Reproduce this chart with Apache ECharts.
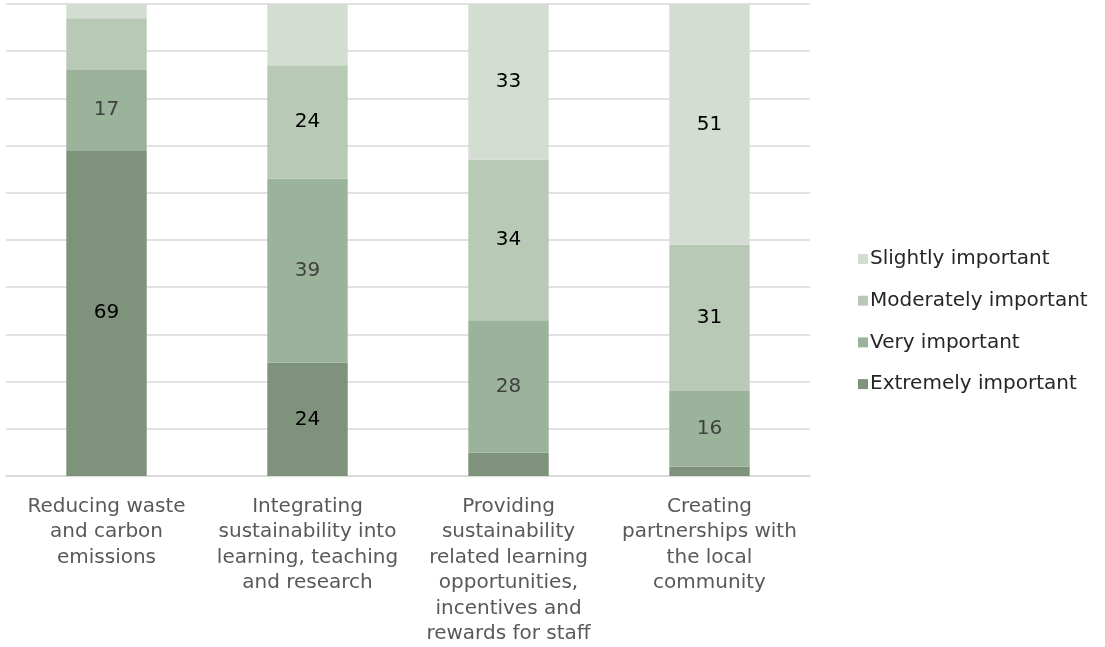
<!DOCTYPE html>
<html>
<head>
<meta charset="utf-8">
<script src="https://cdn.jsdelivr.net/npm/echarts@6/dist/echarts.min.js"></script>
<style>
  html, body { margin: 0; padding: 0; background: #ffffff; }
  #chart { width: 1105px; height: 647px; }
</style>
</head>
<body>
<div id="chart"></div>
<script>
// Survey priorities, share of respondents (%) per importance level
const categories = [
  'Reducing waste\nand carbon\nemissions',
  'Integrating\nsustainability into\nlearning, teaching\nand research',
  'Providing\nsustainability\nrelated learning\nopportunities,\nincentives and\nrewards for staff',
  'Creating\npartnerships with\nthe local\ncommunity'
];
const extremelyImportant = [69, 24, 5, 2];
const veryImportant = [17, 39, 28, 16];
const moderatelyImportant = [11, 24, 34, 31];
const slightlyImportant = [3, 13, 33, 51];

const FONT = '"DejaVu Sans", sans-serif';

function series(name, data, color, labelColor) {
  return {
    name: name,
    type: 'bar',
    stack: 'total',
    data: data,
    barWidth: '40%',
    itemStyle: { color: color },
    label: {
      show: true,
      position: 'inside',
      color: labelColor,
      fontFamily: FONT,
      fontSize: 20,
      formatter: p => (p.value >= 14 ? String(p.value) : '')
    }
  };
}

const chart = echarts.init(document.getElementById('chart'));
chart.setOption({
  animation: false,
  grid: { left: 6, right: 295, top: 4, bottom: 170, containLabel: false },
  legend: {
    orient: 'vertical',
    left: 853,
    top: 244,
    itemWidth: 10,
    itemHeight: 10,
    itemGap: 21.7,
    icon: 'rect',
    data: ['Slightly important', 'Moderately important', 'Very important', 'Extremely important'],
    textStyle: { fontFamily: FONT, fontSize: 20, color: '#262626', padding: [0, 0, 0, -3] }
  },
  xAxis: {
    type: 'category',
    data: categories,
    axisTick: { show: false },
    axisLine: { lineStyle: { color: '#d9d9d9', width: 1.5 } },
    axisLabel: {
      interval: 0,
      margin: 18,
      color: '#595959',
      fontFamily: FONT,
      fontSize: 20,
      lineHeight: 25.5,
      align: 'center'
    }
  },
  yAxis: {
    type: 'value',
    min: 0,
    max: 100,
    interval: 10,
    axisLabel: { show: false },
    axisLine: { show: false },
    axisTick: { show: false },
    splitLine: { lineStyle: { color: '#d9d9d9', width: 1.5 } }
  },
  series: [
    series('Extremely important', extremelyImportant, '#7f927c', '#000000'),
    series('Very important', veryImportant, '#9bb39a', '#404040'),
    series('Moderately important', moderatelyImportant, '#b8cab6', '#000000'),
    series('Slightly important', slightlyImportant, '#d3ddd2', '#000000')
  ]
});
</script>
</body>
</html>
